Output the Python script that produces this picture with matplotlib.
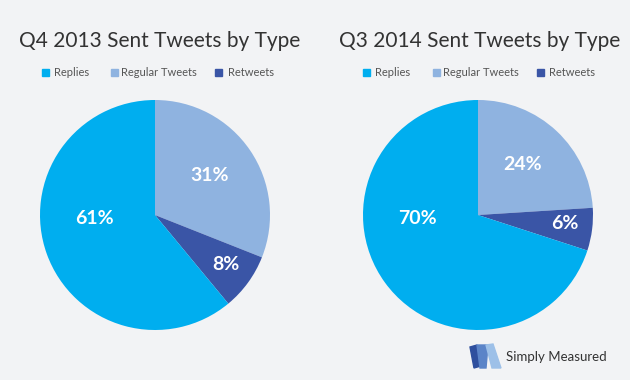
import matplotlib
matplotlib.use("Agg")
import matplotlib.pyplot as plt
from matplotlib.patches import Polygon, Rectangle
import numpy as np

plt.rcParams['font.family'] = ['Lato', 'DejaVu Sans']

categories = ["Regular Tweets", "Retweets", "Replies"]
legend_order = ["Replies", "Regular Tweets", "Retweets"]
colors = {"Replies": "#00aeef", "Regular Tweets": "#8fb3e0", "Retweets": "#3a55a6"}
titles = ["Q4 2013 Sent Tweets by Type", "Q3 2014 Sent Tweets by Type"]
values_q4_2013 = [31, 8, 61]
values_q3_2014 = [24, 6, 70]
label_dist = [0.57, 0.76, 0.53]

W, H = 630, 380
bg = "#f2f3f5"
fig = plt.figure(figsize=(W / 100, H / 100), dpi=100, facecolor=bg)

def px_axes(cx, cy, r):
    return fig.add_axes([(cx - r) / W, 1 - (cy + r) / H, 2 * r / W, 2 * r / H])

def draw_pie(cx, vals, title, title_x, legend_x):
    ax = px_axes(cx, 215, 115)
    ax.set_facecolor(bg)
    wedges, _ = ax.pie(vals, colors=[colors[c] for c in categories], startangle=90,
                       counterclock=False, radius=1.0,
                       wedgeprops=dict(linewidth=0))
    ax.set_xlim(-1, 1); ax.set_ylim(-1, 1)
    ax.set_aspect('equal')
    for w, v, d, c in zip(wedges, vals, label_dist, categories):
        ang = np.deg2rad((w.theta1 + w.theta2) / 2)
        if c == "Replies":
            ang = np.deg2rad(185)
        ax.text(d * np.cos(ang), d * np.sin(ang) + 0.02, f"{v}%", color="white",
                fontsize=14, fontweight='bold', ha='center', va='center')
    fig.text(title_x / W, 1 - 41 / H, title, ha='center', va='center',
             fontsize=15, color="#333333")
    for (x_sq, x_txt), name in zip(legend_x, legend_order):
        fig.patches.append(Rectangle((x_sq / W, 1 - 76 / H), 7 / W, 7 / H,
                                     transform=fig.transFigure, color=colors[name]))
        fig.text(x_txt / W, 1 - 72.5 / H, name, ha='left', va='center',
                 fontsize=8, color="#555555")

draw_pie(155, values_q4_2013, titles[0], 160, [(42, 54), (111, 121), (215, 228)])
draw_pie(478, values_q3_2014, titles[1], 480, [(363, 375), (433, 443), (537, 549)])

# logo
def figpoly(pts, col):
    p = Polygon([(x / W, 1 - y / H) for x, y in pts], closed=True,
                transform=fig.transFigure, color=col)
    fig.patches.append(p)
figpoly([(470, 347), (477, 345), (481, 366), (474, 368)], "#2f4f9e")
figpoly([(477, 345), (488, 345), (486, 368), (480, 368)], "#5b84c8")
figpoly([(486, 345), (493, 344), (501, 368), (492, 368)], "#9dc0e8")
fig.text(506 / W, 1 - 357 / H, "Simply Measured", ha='left', va='center',
         fontsize=9.5, color="#333333")

fig.savefig("out.png", dpi=100, facecolor=bg)
